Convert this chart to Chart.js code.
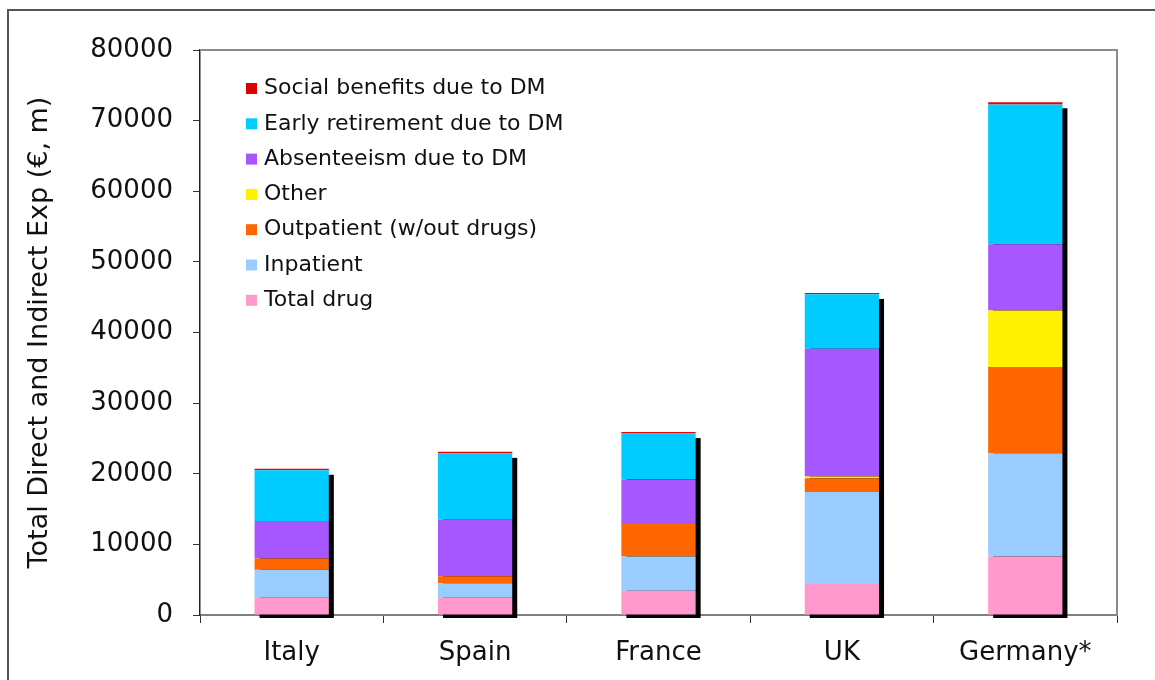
<!DOCTYPE html>
<html>
<head>
<meta charset="utf-8">
<script src="https://cdn.jsdelivr.net/npm/chart.js@4/dist/chart.umd.min.js"></script>
<style>
    html, body { margin: 0; padding: 0; background: #fff; }
    #chart { display: block; }
</style>
</head>
<body>
<canvas id="chart" width="1155" height="680"></canvas>
<script>
// données (€, m)
const countries = ["Italy", "Spain", "France", "UK", "Germany*"];

const totalDrug     = [2500, 2500, 3450, 4400, 8300];
const inpatient     = [3900, 2000, 4850, 13000, 14600];
const outpatient    = [1600, 1000, 4600, 1950, 12200];
const other         = [0, 0, 0, 250, 8000];
const absenteeism   = [5300, 8000, 6300, 18100, 9400];
const earlyRetire   = [7200, 9400, 6500, 7700, 19800];
const socialBenefit = [200, 200, 200, 200, 300];

const yTicks = [0, 10000, 20000, 30000, 40000, 50000, 60000, 70000, 80000];

const FONT = "'DejaVu Sans', Verdana, sans-serif";

// ombre noire derrière chaque barre empilée
const barShadow = {
    id: "barShadow",
    beforeDatasetsDraw(chart) {
        const ctx = chart.ctx;
        const last = chart.getDatasetMeta(chart.data.datasets.length - 1);
        const base = chart.scales.y.getPixelForValue(0);
        ctx.save();
        ctx.fillStyle = "#000";
        last.data.forEach((bar) => {
            const p = bar.getProps(["x", "y", "width"], true);
            ctx.fillRect(p.x - p.width / 2 + 5, p.y + 6, p.width, base - p.y - 3);
        });
        ctx.restore();
    }
};

// cadres : bordure extérieure + haut/droite de la zone de tracé
const frames = {
    id: "frames",
    beforeDraw(chart) {
        const ctx = chart.ctx;
        ctx.save();
        ctx.fillStyle = "#fff";
        ctx.fillRect(0, 0, chart.width, chart.height);
        ctx.strokeStyle = "#555";
        ctx.lineWidth = 2;
        ctx.strokeRect(8, 10, chart.width + 20, chart.height + 20);
        ctx.restore();
    },
    afterDatasetsDraw(chart) {
        const { left, right, top, bottom } = chart.chartArea;
        const ctx = chart.ctx;
        ctx.save();
        ctx.strokeStyle = "#8c8c8c";
        ctx.lineWidth = 2;
        ctx.beginPath();
        ctx.moveTo(left, top);
        ctx.lineTo(right, top);
        ctx.lineTo(right, bottom);
        ctx.stroke();
        ctx.restore();
    }
};

// légende dans la zone de tracé, ordre inversé
const insideLegend = {
    id: "insideLegend",
    afterDraw(chart) {
        const ctx = chart.ctx;
        const sets = chart.data.datasets.slice().reverse();
        ctx.save();
        ctx.font = "22px " + FONT;
        ctx.textBaseline = "middle";
        ctx.textAlign = "left";
        sets.forEach((ds, i) => {
            const y = 88.5 + i * 35.3;
            ctx.fillStyle = ds.legendColor || ds.backgroundColor;
            ctx.fillRect(246, y - 5.5, 11, 11);
            ctx.fillStyle = "#111";
            ctx.fillText(ds.label, 264, y);
        });
        ctx.restore();
    }
};

const ctx = document.getElementById("chart").getContext("2d");

new Chart(ctx, {
    type: "bar",
    data: {
        labels: countries,
        datasets: [
            { label: "Total drug", data: totalDrug, backgroundColor: "#FF99CC" },
            { label: "Inpatient", data: inpatient, backgroundColor: "#99CCFF" },
            { label: "Outpatient (w/out drugs)", data: outpatient, backgroundColor: "#FF6600" },
            { label: "Other", data: other, backgroundColor: "#FFF100" },
            { label: "Absenteeism due to DM", data: absenteeism, backgroundColor: "#A757FF" },
            { label: "Early retirement due to DM", data: earlyRetire, backgroundColor: "#00CCFF" },
            { label: "Social benefits due to DM", data: socialBenefit, backgroundColor: "#F00000", legendColor: "#DD0000" }
        ]
    },
    options: {
        responsive: false,
        devicePixelRatio: 1,
        animation: false,
        categoryPercentage: 1,
        barPercentage: 0.405,
        layout: {
            padding: { left: 8, top: 50, right: 38, bottom: 0 }
        },
        plugins: {
            legend: { display: false },
            tooltip: { enabled: false }
        },
        scales: {
            x: {
                stacked: true,
                afterFit: (scale) => { scale.height = 65; },
                grid: {
                    offset: true,
                    drawOnChartArea: false,
                    tickLength: 8,
                    color: "#333",
                    lineWidth: 1
                },
                border: { display: true, color: "#808080", width: 2 },
                ticks: {
                    padding: 15,
                    color: "#111",
                    font: { family: FONT, size: 26 }
                }
            },
            y: {
                stacked: true,
                min: 0,
                max: 80000,
                afterFit: (scale) => { scale.width = 192; },
                afterBuildTicks: (scale) => {
                    scale.ticks = yTicks.map((v) => ({ value: v }));
                },
                grid: {
                    drawOnChartArea: false,
                    tickLength: 7,
                    color: "#333",
                    lineWidth: 1
                },
                border: { display: true, color: "#222", width: 1.5 },
                ticks: {
                    padding: 20,
                    color: "#111",
                    font: { family: FONT, size: 26 },
                    callback: (value) => String(value)
                },
                title: {
                    display: true,
                    text: "Total Direct and Indirect Exp (€, m)",
                    color: "#111",
                    padding: { top: 16, bottom: 0 },
                    font: { family: FONT, size: 27 }
                }
            }
        }
    },
    plugins: [frames, barShadow, insideLegend]
});
</script>
</body>
</html>
